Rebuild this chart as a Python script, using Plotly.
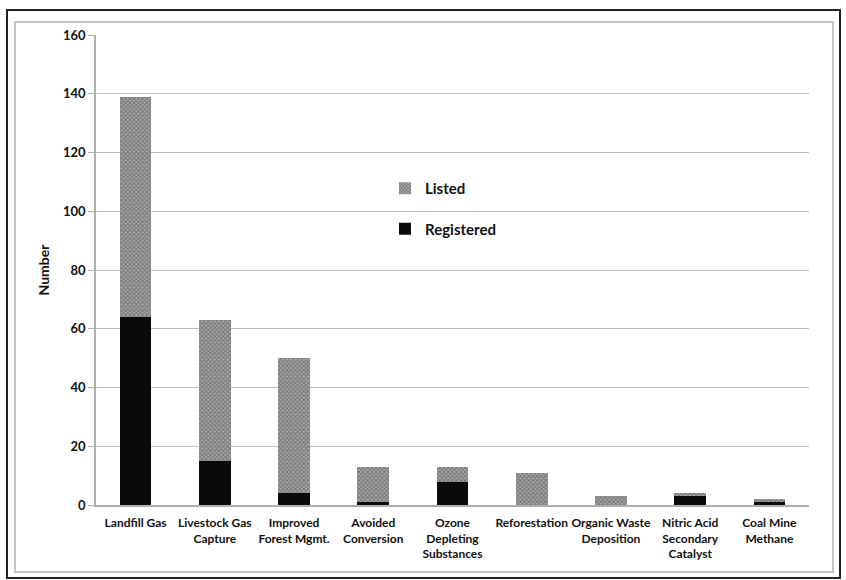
import plotly.graph_objects as go

categories = ["Landfill Gas", "Livestock Gas<br>Capture", "Improved<br>Forest Mgmt.",
              "Avoided<br>Conversion", "Ozone<br>Depleting<br>Substances", "Reforestation",
              "Organic Waste<br>Deposition", "Nitric Acid<br>Secondary<br>Catalyst", "Coal Mine<br>Methane"]
registered = [64, 15, 4, 1, 8, 0, 0, 3, 1]
listed = [75, 48, 46, 12, 5, 11, 3, 1, 1]

W, H = 846, 580
L, R, T, B = 96, 37, 35, 75
pw, ph = W - L - R, H - T - B


def px(x):
    return (x - L) / pw


def py(y):
    return (H - B - y) / ph


fnt = "Lato, 'Open Sans', sans-serif"

fig = go.Figure()
fig.add_bar(x=categories, y=registered, name="Registered", marker_color="#0a0a0a",
            marker_line_width=0, legendgroup="r", legendrank=2)
fig.add_bar(x=categories, y=listed, name="Listed", legendgroup="l", legendrank=1,
            marker=dict(color="#8a8a8a", line_width=0,
                        pattern=dict(shape="x", size=3, solidity=0.5,
                                     fgcolor="#3a3a3a", bgcolor="#a8a8a8")))

# рамки вокруг картинки
shapes = [
    dict(type="rect", xref="paper", yref="paper", x0=px(7), x1=px(840), y0=py(578), y1=py(10),
         line=dict(color="#222", width=2)),
    dict(type="rect", xref="paper", yref="paper", x0=px(15), x1=px(833), y0=py(572), y1=py(22),
         line=dict(color="#c4c4c4", width=2)),
]

fig.update_layout(
    width=W, height=H,
    margin=dict(l=L, r=R, t=T, b=B),
    barmode="stack", bargap=0.6,
    plot_bgcolor="white", paper_bgcolor="white",
    font=dict(family=fnt, size=12, color="#111"),
    shapes=shapes,
    legend=dict(x=px(385), y=py(172), xanchor="left", yanchor="top",
                traceorder="grouped", tracegroupgap=18,
                font=dict(family=fnt, size=15, color="#111", weight="bold"),
                bgcolor="rgba(0,0,0,0)", itemwidth=30),
    xaxis=dict(showline=True, linecolor="#b0b0b0", linewidth=1.5, ticks="",
               ticklabelstandoff=6,
               tickfont=dict(family=fnt, size=12, weight="bold")),
    yaxis=dict(range=[0, 160], dtick=20, showgrid=True, gridcolor="#bdbdbd", gridwidth=1,
               showline=True, linecolor="#b0b0b0", linewidth=1.5, ticks="outside",
               ticklen=6, tickcolor="#b0b0b0", zeroline=False,
               tickfont=dict(family=fnt, size=13, weight="bold"),
               title=dict(text="Number", font=dict(family=fnt, size=14, weight="bold"), standoff=10)),
)

fig.write_html("out.html", config={"displayModeBar": False},
               post_script="document.body.style.margin='0';")
